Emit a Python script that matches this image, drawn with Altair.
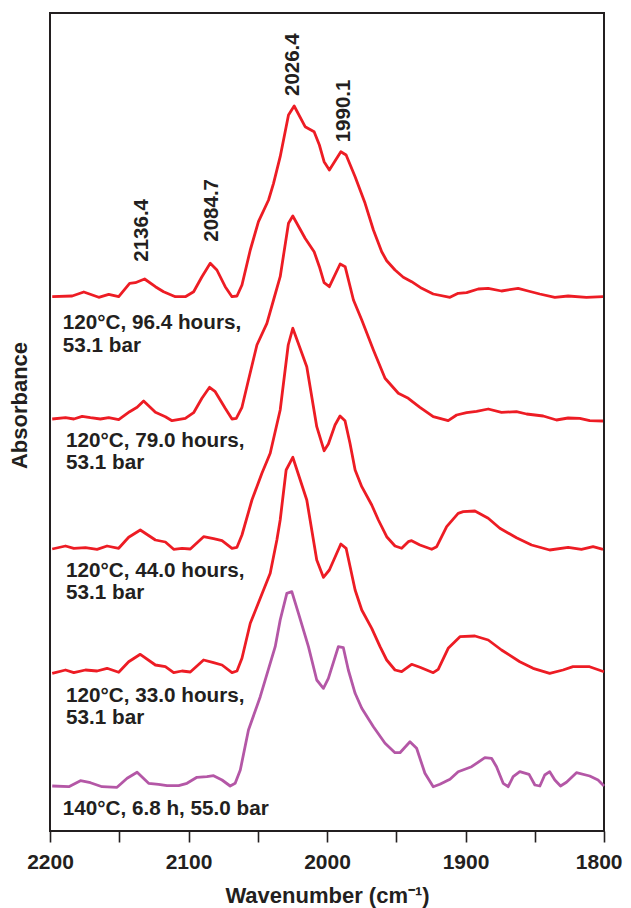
import altair as alt
import pandas as pd

# ---------------- data ----------------
series_names = ["96.4 h", "79.0 h", "44.0 h", "33.0 h", "6.8 h"]
series_offsets = [0.534, 0.412, 0.282, 0.160, 0.045]
series_colors = ["#ed1c24", "#ed1c24", "#ed1c24", "#ed1c24", "#b457a6"]

wn1 = [2198.4, 2184.0, 2175.6, 2164.8, 2157.6, 2150.4, 2142.5, 2138.4, 2131.7, 2123.9, 2118.0, 2109.5,
       2102.3, 2096.3, 2090.3, 2084.3, 2079.5, 2073.5, 2068.6, 2065.0, 2061.4, 2055.4, 2049.5, 2042.2,
       2038.6, 2033.8, 2027.8, 2023.7, 2015.8, 2009.3, 2005.5, 2002.1, 1998.3, 1990.0, 1986.2, 1979.7,
       1972.5, 1966.5, 1960.5, 1956.9, 1950.9, 1944.9, 1938.9, 1931.6, 1923.3, 1911.2, 1905.3, 1899.2,
       1890.8, 1883.6, 1874.0, 1862.0, 1854.8, 1846.4, 1835.5, 1825.9, 1812.7, 1800.7]
h1 = [0.3, 1, 5, -0.3, 2.7, 0.3, 13.7, 14.3, 18, 10.3, 5.3, 0.3,
      0.3, 5.3, 20.3, 33.7, 27, 10.3, 0.3, 1, 12, 47, 75.3, 97,
      113.7, 140.3, 182, 191, 170.3, 165.3, 152, 135.3, 127, 145.3, 142, 120.3,
      93.7, 67, 45.3, 36.3, 27, 19.7, 15.3, 8.7, 3, -0.3, 3.7, 4.3,
      8, 8.7, 6, 8.7, 6, 3, -0.3, 1, -0.3, 0.3]

wn2 = [2198.4, 2188.8, 2182.8, 2176.8, 2170.8, 2163.6, 2157.6, 2150.4, 2142.5, 2137.1, 2132.4, 2123.9,
       2116.7, 2111.9, 2102.3, 2096.3, 2090.3, 2084.8, 2080.7, 2073.5, 2068.6, 2065.5, 2061.4, 2056.7,
       2050.6, 2043.4, 2038.6, 2033.8, 2027.8, 2024.7, 2015.8, 2009.3, 2005.5, 2002.1, 1998.3, 1990.5,
       1986.9, 1980.9, 1974.9, 1966.5, 1958.1, 1948.5, 1941.3, 1932.9, 1923.3, 1912.5, 1906.4, 1899.2,
       1892.0, 1883.6, 1874.0, 1863.2, 1855.9, 1843.9, 1834.3, 1825.9, 1817.5, 1810.3, 1800.7]
h2 = [0, 1.3, 0, 2.7, 1.3, 0, 1.3, -0.7, 7.3, 11.7, 18, 6.7,
      2.3, -1.7, 0.7, 6.3, 20.7, 31.7, 27.3, 10.7, 0, 0.7, 11.7, 39,
      74, 95.7, 119, 142.3, 195.7, 203, 180.7, 167.3, 152.3, 136.3, 132.3, 155,
      152.3, 119, 99, 69, 40.7, 25.7, 20.7, 11.7, 2.3, -1.7, 4, 6.3,
      7.7, 10, 6.7, 7.3, 5, 3, -1, 1, 0.7, -1.7, -2]

wn3 = [2198.4, 2188.8, 2182.8, 2174.4, 2166.0, 2158.8, 2150.4, 2143.2, 2134.8, 2123.9, 2116.7, 2110.7,
       2104.7, 2098.7, 2089.1, 2081.9, 2075.8, 2068.6, 2065.0, 2061.4, 2054.2, 2047.0, 2041.0, 2033.8,
       2028.0, 2024.7, 2021.6, 2014.6, 2007.4, 2002.1, 1999.0, 1994.2, 1990.6, 1987.0, 1983.4, 1979.7,
       1974.9, 1967.7, 1962.9, 1956.9, 1950.9, 1946.1, 1941.3, 1938.9, 1932.9, 1924.4, 1920.8, 1913.6,
       1905.3, 1901.6, 1893.2, 1883.6, 1875.2, 1863.2, 1852.3, 1839.2, 1825.9, 1816.3, 1807.9, 1800.7]
h3 = [0, 3, 0.7, 1.3, -0.3, 3, 0.7, 11.7, 19, 9, 7, -0.3,
      0.7, 0, 12.3, 10.3, 8.3, 0.7, 1.7, 14, 49, 75.7, 95.7, 139,
      204, 220.7, 209, 182.3, 122.3, 98.3, 105, 124, 133, 128.3, 105.7, 79,
      62.3, 44, 29, 12.3, 3, 0.7, 7.3, 8.3, 4, -0.3, 2.3, 22.3,
      35.7, 37.3, 38, 30.7, 20.7, 11.3, 4, -1, 1.7, -0.3, 2.3, -0.3]

wn4 = [2198.4, 2188.8, 2182.8, 2174.4, 2166.0, 2158.8, 2150.4, 2143.2, 2134.8, 2123.9, 2116.7, 2110.7,
       2104.7, 2098.7, 2089.1, 2081.9, 2075.8, 2068.6, 2065.0, 2061.4, 2055.4, 2048.2, 2041.0, 2036.2,
       2033.8, 2029.5, 2024.7, 2014.6, 2007.4, 2002.6, 1998.3, 1990.0, 1986.2, 1979.7, 1974.9, 1967.7,
       1961.7, 1956.9, 1950.9, 1946.1, 1938.9, 1932.9, 1923.3, 1919.7, 1912.5, 1904.0, 1893.2, 1883.6,
       1874.0, 1860.8, 1851.2, 1839.2, 1829.6, 1822.4, 1810.4, 1800.0]
h4 = [-2.3, 1, -1.7, 1, 0, 2.7, -1.3, 9.3, 16.7, 6, 4.3, -1.7,
      0, -1, 11, 8.3, 6, -1.7, 0, 12.7, 47.7, 72.7, 97.7, 131,
      151, 201, 213.7, 171, 111, 93.7, 101, 127, 122.7, 81, 61, 42.7,
      24.3, 11, 1, -0.7, 6.7, 3.7, -1.7, 1.7, 22.7, 34.3, 35, 31,
      21, 9.3, 2.7, -2.3, 1, 4.3, 4.3, -0.7]

wn5 = [2198.4, 2186.4, 2178.0, 2170.8, 2162.4, 2151.6, 2144.3, 2137.1, 2128.8, 2121.6, 2115.5, 2107.1,
       2101.1, 2093.9, 2086.7, 2081.9, 2075.8, 2069.9, 2066.3, 2062.6, 2056.7, 2048.2, 2037.4, 2033.8,
       2029.0, 2025.4, 2020.6, 2013.4, 2007.4, 2002.6, 1999.0, 1991.8, 1988.2, 1984.6, 1979.7, 1974.9,
       1966.5, 1958.1, 1950.9, 1947.3, 1940.1, 1935.3, 1929.3, 1923.3, 1918.5, 1911.2, 1905.3, 1895.6,
       1886.0, 1881.2, 1877.6, 1872.8, 1869.2, 1865.6, 1860.8, 1854.1, 1849.9, 1846.3, 1842.8, 1839.2,
       1835.5, 1831.4, 1827.1, 1819.9, 1810.3, 1804.3, 1800.0]
h5 = [0, -0.7, 5.3, 3.3, -0.7, -1.3, 7.7, 13.7, 2.7, 1.7, 0.3, 0.3,
      2.7, 8.7, 9.3, 10.3, 6, 0, 2.7, 16, 56, 89.3, 139.3, 166,
      192.7, 194.3, 172.7, 139.3, 106, 97.7, 107.7, 139.3, 138.3, 116, 92.7, 77.7,
      59.3, 42.7, 33.3, 33.3, 44.3, 37.7, 12.7, -0.7, 1.7, 6.7, 14.3, 19.3,
      28.3, 27.7, 19.3, 2.7, -0.7, 9.3, 14.3, 11.7, 1, 0, 11, 14.3,
      6, 0, 3.7, 13.3, 10, 6, 0]

series_wn = [wn1, wn2, wn3, wn4, wn5]
series_h = [h1, h2, h3, h4, h5]  # heights above each trace's baseline, in 0.001 a.u.

# condition labels (multi-line) and their anchor positions
cond_text = [["120°C, 96.4 hours,", "53.1 bar"],
             ["120°C, 79.0 hours,", "53.1 bar"],
             ["120°C, 44.0 hours,", "53.1 bar"],
             ["120°C, 33.0 hours,", "53.1 bar"],
             ["140°C, 6.8 h, 55.0 bar"]]
cond_wn = [2190.8, 2188.4, 2188.4, 2188.4, 2190.8]
cond_y = [0.5017, 0.3843, 0.2543, 0.1293, 0.0160]

peak_text = ["2136.4", "2084.7", "2026.4", "1990.1"]
peak_wn = [2133.8, 2082.7, 2024.7, 1987.9]
peak_y = [0.5693, 0.5893, 0.7350, 0.6887]

x_ticks = [2200, 2150, 2100, 2050, 2000, 1950, 1900, 1850, 1800]

# ---------------- build tables ----------------
frames = []
for name, off, wn, h in zip(series_names, series_offsets, series_wn, series_h):
    d = pd.DataFrame({"wn": wn, "h": h})
    d["absorb"] = off + d["h"] / 1000.0
    d["series"] = name
    frames.append(d)
df = pd.concat(frames, ignore_index=True)

cond_df = pd.DataFrame({"wn": cond_wn, "absorb": cond_y, "label": cond_text})
peak_df = pd.DataFrame({"wn": peak_wn, "absorb": peak_y, "label": peak_text})

FONT = "Liberation Sans"
INK = "#231f20"

x_scale = alt.Scale(domain=[2200, 1800], nice=False, zero=False)
y_scale = alt.Scale(domain=[0, 0.818], nice=False, zero=False)

lines = alt.Chart(df).mark_line(strokeWidth=2.8, strokeJoin="round").encode(
    x=alt.X("wn:Q", scale=x_scale, title="Wavenumber (cm⁻¹)",
            axis=alt.Axis(values=x_ticks, format="d",
                          labelExpr="datum.value % 100 === 0 ? datum.label : ''",
                          tickSize=11, tickWidth=1.6, tickColor=INK,
                          labelFont=FONT, labelFontSize=21, labelFontWeight="bold",
                          labelColor=INK, labelBaseline="alphabetic", labelPadding=26,
                          labelFlush=False, labelOverlap=False,
                          labelAlign={"condition": {"test": "datum.value === 1800", "value": "right"},
                                      "value": "center"},
                          labelOffset={"condition": {"test": "datum.value === 1800", "value": 18},
                                       "value": 0},
                          domain=False, grid=False,
                          titleFont=FONT, titleFontSize=22, titleFontWeight="bold",
                          titleColor=INK, titleBaseline="alphabetic", titleY=71)),
    y=alt.Y("absorb:Q", scale=y_scale, title="Absorbance",
            axis=alt.Axis(labels=False, ticks=False, domain=False, grid=False,
                          titleFont=FONT, titleFontSize=22, titleFontWeight="bold",
                          titleColor=INK, titleAngle=270, titleAlign="center",
                          titleBaseline="middle", titleX=-30.5, titleY=392)),
    color=alt.Color("series:N", scale=alt.Scale(domain=series_names, range=series_colors),
                    legend=None),
    detail="series:N",
    order="wn:Q",
)

cond = alt.Chart(cond_df).mark_text(
    align="left", baseline="alphabetic", font=FONT, fontSize=20.7, fontWeight="bold",
    color=INK, lineHeight=22.5,
).encode(x=alt.X("wn:Q", scale=x_scale), y=alt.Y("absorb:Q", scale=y_scale), text="label")

peaks = alt.Chart(peak_df).mark_text(
    align="left", baseline="middle", angle=270, font=FONT, fontSize=20.5, fontWeight="bold",
    color=INK,
).encode(x=alt.X("wn:Q", scale=x_scale), y=alt.Y("absorb:Q", scale=y_scale), text="label:N")

chart = alt.layer(lines, cond, peaks).properties(
    width=554, height=818,
    autosize=alt.AutoSizeParams(type="none"),
    padding={"left": 42, "top": 5, "right": 19, "bottom": 77},
    background="white",
).configure_view(stroke=INK, strokeWidth=2)

chart.save("out.html", embed_options={"renderer": "svg", "actions": False})
